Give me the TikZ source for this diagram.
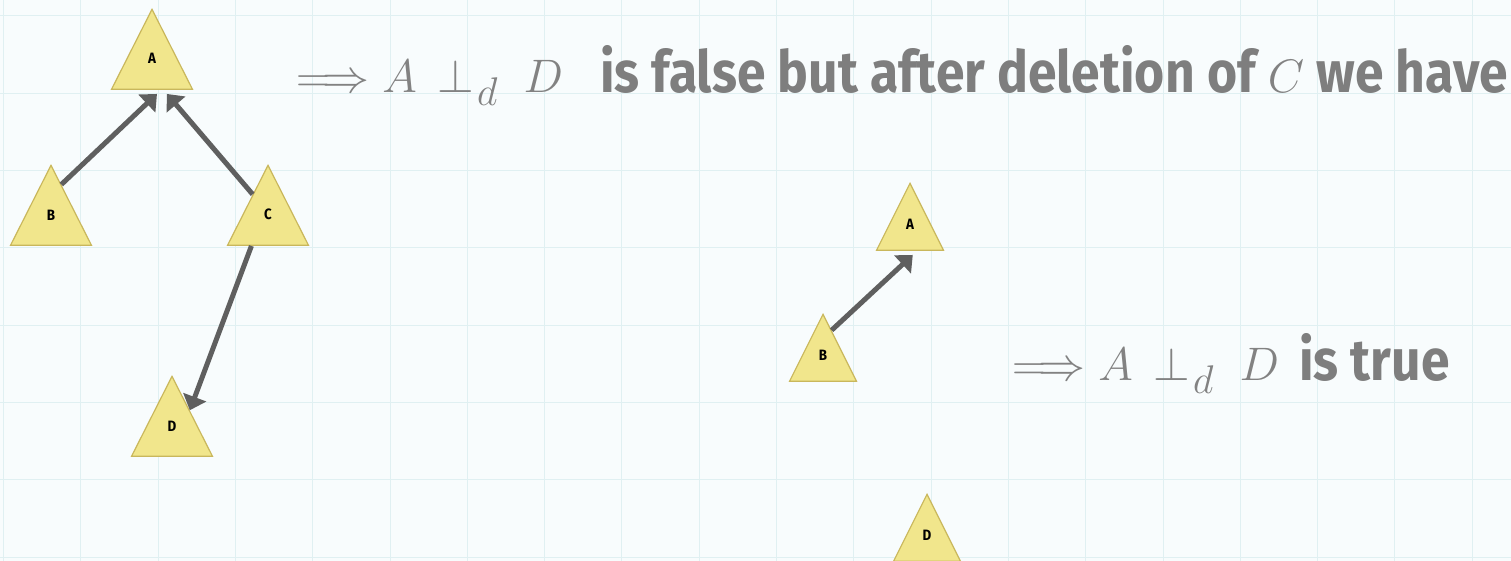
\RequirePackage{fix-cm}
\documentclass[tikz,border=0pt]{standalone}
\usepackage{amsmath}
\usepackage{fontspec}
\usepackage{tikz}
\usepackage{xcolor}
\usetikzlibrary{arrows.meta,calc,backgrounds,shapes.geometric}
\newfontfamily\handfont[FakeStretch=0.89]{Fira Sans}
\definecolor{papergrid}{HTML}{E0F0F2}
\definecolor{paperbg}{HTML}{F8FCFD}
\definecolor{nodefill}{HTML}{F1E68C}
\definecolor{nodeedge}{HTML}{C9B75C}
\definecolor{edgegray}{HTML}{5F5F5F}
\definecolor{textgray}{HTML}{7E7E7E}
\definecolor{mathgray}{HTML}{828282}
\tikzset{
  dagnode/.style={
    isosceles triangle,
    isosceles triangle apex angle=53,
    isosceles triangle stretches,
    shape border rotate=90,
    draw=nodeedge,
    fill=nodefill,
    line width=1.2pt,
    inner sep=0pt,
    text=black,
    text depth=9pt,
    font=\handfont\bfseries\fontsize{15pt}{15pt}\selectfont
  },
  bignode/.style={dagnode, minimum width=81pt, minimum height=80pt},
  smallnode/.style={dagnode, minimum width=67pt, minimum height=67pt},
  dagedge/.style={-{Triangle[length=14pt,width=24pt]}, line width=5pt, draw=edgegray},
  remark/.style={anchor=base west, inner sep=0pt, text=textgray,
    font=\handfont\bfseries\fontsize{58pt}{60pt}\selectfont},
  gridline/.style={draw=papergrid, line width=1pt}
}
\newcommand{\mtxt}[1]{{\color{mathgray}\fontsize{47pt}{50pt}\selectfont$#1$}}
\newcommand{\dsep}{A\mkern8mu{\perp}\kern3pt\raisebox{-13pt}{\fontsize{40pt}{40pt}\selectfont$d$}\mkern10mu D}

\begin{document}
\begin{tikzpicture}[x=1pt, y=-1pt]
\useasboundingbox (0,0) rectangle (1511,561);
\begin{scope}[on background layer]
  \fill[paperbg] (0,0) rectangle (1511,561);
  \foreach \k in {0,...,19} \draw[gridline] ({3.5+77.3*\k},0) -- ++(0,561);
  \foreach \k in {0,...,7} \draw[gridline] (0,{16+77.3*\k}) -- ++(1511,0);
\end{scope}

% full graph
\node[bignode, anchor=apex] (A) at (152,8) {A};
\node[bignode, anchor=apex] (B) at (51,164) {B};
\node[bignode, anchor=apex] (C) at (268,164) {C};
\node[bignode, anchor=apex] (D) at (172,375) {D};

% after deleting C
\node[smallnode, anchor=apex] (A2) at (910,182) {A};
\node[smallnode, anchor=apex] (B2) at (823,313) {B};
\node[smallnode, anchor=apex] (D2) at (927,493) {D};

\draw[dagedge] ($(B.apex)!0.25!(B.right corner)$) -- ([yshift=-4pt]$(A.left corner)!0.56!(A.right corner)$);
\draw[dagedge] ($(C.apex)!0.37!(C.left corner)$) -- ([yshift=-4pt]$(A.left corner)!0.68!(A.right corner)$);
\draw[dagedge] ($(C.left corner)!0.3!(C.right corner)$) -- ($(D.apex)!0.43!(D.right corner)$);
\draw[dagedge] ($(B2.apex)!0.25!(B2.right corner)$) -- ([yshift=-4pt]$(A2.left corner)!0.54!(A2.right corner)$);

\node[remark] (falseclaim) at (296,93) {\mtxt{\Longrightarrow\dsep}\hspace{37pt}is false but after deletion of \mtxt{C} we have};
\node[remark] (trueclaim) at (1012,380) {\mtxt{\Longrightarrow\dsep}\hspace{20pt}is true};
\end{tikzpicture}
\end{document}
